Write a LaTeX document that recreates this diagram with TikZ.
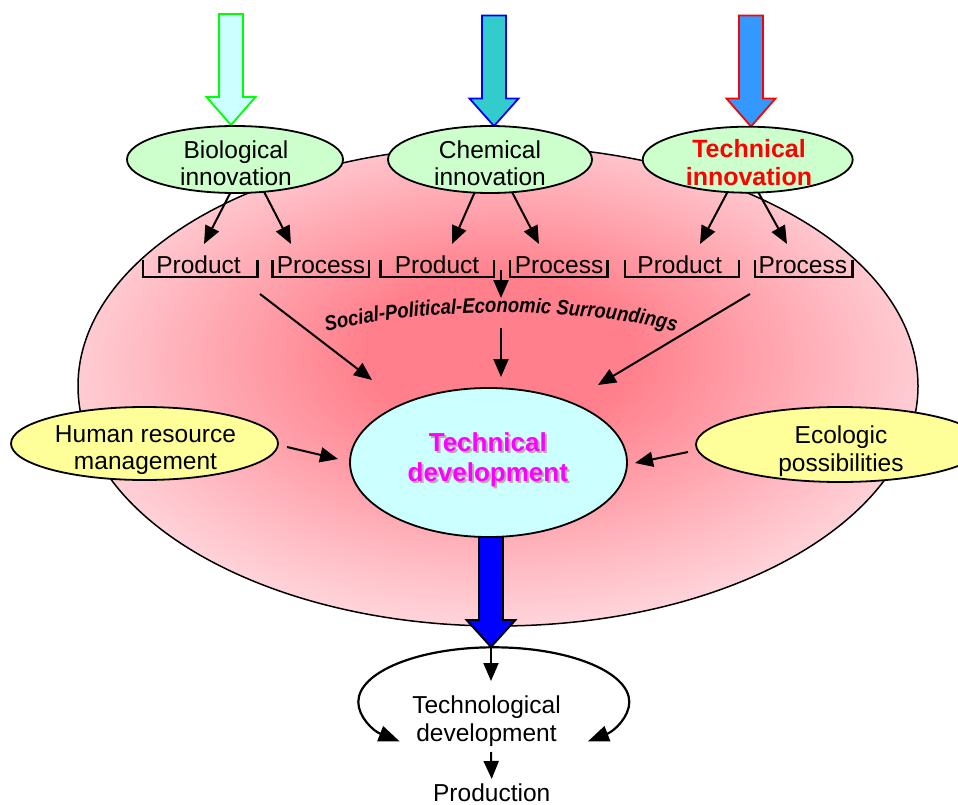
\documentclass[tikz,border=0pt]{standalone}
\usepackage{fontspec}
\setmainfont{Liberation Sans}
\newfontfamily\spfont[FakeStretch=0.88]{Liberation Sans}
\usetikzlibrary{shapes.geometric,arrows.meta,decorations.text}
\definecolor{pkC}{RGB}{255,128,140}
\definecolor{pkL}{RGB}{255,222,228}
\definecolor{grnE}{RGB}{204,255,204}
\definecolor{yelE}{RGB}{255,255,153}
\definecolor{cyanE}{RGB}{204,255,255}
\definecolor{tealA}{RGB}{51,204,204}
\definecolor{blueA}{RGB}{51,153,255}
\definecolor{limeA}{RGB}{0,255,0}
\definecolor{magT}{RGB}{255,0,255}
\definecolor{shadT}{RGB}{190,170,175}
\pgfdeclareradialshading{pinkglow}{\pgfpoint{0bp}{4bp}}{color(0bp)=(pkC); color(8bp)=(pkC); color(29bp)=(pkL); color(50bp)=(pkL)}
\newcommand\fnorm{\fontsize{24.5}{28}\selectfont}
\newcommand\fbig{\fontsize{25}{30}\selectfont\bfseries}
\newcommand\fcentre{\fontsize{26}{30}\selectfont\bfseries}
\newcommand\sptext{\spfont\fontsize{21}{21}\selectfont\bfseries\itshape}
\newcommand\blockarr[7]{%
  \draw[fill=#6, draw=#7, line width=1.8pt, line join=miter]
    ({#1-12},#2) -- ({#1+12},#2) -- ({#1+12},#3) -- ({#1+24.5},#3) -- (#1,#4)
    -- ({#1-24.5},#3) -- ({#1-12},#3) -- cycle;}
\begin{document}
\begin{tikzpicture}[x=1pt,y=-1pt,
  lbl/.style={font=\fnorm, anchor=base, inner sep=0pt, outer sep=0pt},
  arr/.style={draw=black, line width=2pt, -{Triangle[length=18pt,width=15pt]}},
  carr/.style={draw=black, line width=2.2pt, -{Triangle[length=21pt,width=16pt]}},
  innov/.style={ellipse, draw=black, line width=1.8pt, fill=grnE, inner sep=0pt, outer sep=0pt},
  yel/.style={ellipse, draw=black, line width=1.8pt, fill=yelE, inner sep=0pt, outer sep=0pt},
  brk/.style={draw=black, line width=2.6pt, line join=miter}]
\useasboundingbox (0,0) rectangle (958,805);
\clip (0,0) rectangle (958,805);

% big environment ellipse
\node[ellipse, draw=black, line width=1.5pt, shade, shading=pinkglow,
      minimum width=840pt, minimum height=480pt, inner sep=0pt] (env) at (498,386) {};

% top block arrows
\blockarr{231}{14}{97}{125}{}{cyanE}{limeA}
\blockarr{494}{15.5}{98.5}{126}{}{tealA}{blue}
\blockarr{751}{15.5}{98.5}{126.5}{}{blueA}{red}

% innovation ellipses
\node[innov, minimum width=216pt, minimum height=67pt] (bio) at (235,159.5) {};
\node[innov, minimum width=204pt, minimum height=67pt] (chem) at (490,159.5) {};
\node[innov, minimum width=210pt, minimum height=66pt] (tech) at (747.7,159.7) {};
\node[lbl] (bio1) at (236,158.2) {Biological};
\node[lbl] (bio2) at (236,185.5) {innovation};
\node[lbl] (chem1) at (490,158.2) {Chemical};
\node[lbl] (chem2) at (490,185.5) {innovation};
\node[lbl, font=\fbig, text=red] (tech1) at (749,157.2) {Technical};
\node[lbl, font=\fbig, text=red] (tech2) at (749,185.5) {innovation};

% product / process labels with brackets
\node[lbl] (pd1) at (198.5,273) {Product};
\node[lbl] (pc1) at (321,273) {Process};
\node[lbl] (pd2) at (437,273) {Product};
\node[lbl] (pc2) at (559,273) {Process};
\node[lbl] (pd3) at (679.7,273) {Product};
\node[lbl] (pc3) at (802.8,273) {Process};
\draw[brk] (143,260) |- (257.5,277) -- (257.5,260);
\draw[brk] (272.7,260) |- (369,277) -- (369,260);
\draw[brk] (380.7,260) |- (494,277) -- (494,260);
\draw[brk] (510,260) |- (607.7,277) -- (607.7,260);
\draw[brk] (625,260) |- (739,277) -- (739,260);
\draw[brk] (755,260) |- (852.7,277) -- (852.7,260);

% arrows innovation -> product/process
\coordinate (a1) at (204,244);
\coordinate (a2) at (291,244);
\coordinate (a3) at (452,244);
\coordinate (a4) at (539,244);
\coordinate (a5) at (700,244);
\coordinate (a6) at (787,244);
\draw[arr] (bio.-98.6) -- (a1);
\draw[arr] (bio.-48.1) -- (a2);
\draw[arr] (chem.-115.8) -- (a3);
\draw[arr] (chem.-56.1) -- (a4);
\draw[arr] (tech.-122.6) -- (a5);
\draw[arr] (tech.-72.1) -- (a6);

% social-political-economic surroundings
\path[decorate, decoration={text along path, text align=center,
   text={|\sptext|Social-Political-Economic Surroundings}}]
   (320,333) .. controls (420,306) and (580,306) .. (682,333);
\coordinate (s0) at (501,270);
\coordinate (s1) at (501,298);
\coordinate (s2) at (501,328);
\coordinate (s3) at (501,377);
\draw[arr] (s0) -- (s1);
\draw[arr] (s2) -- (s3);
\coordinate (l0) at (260,294);
\coordinate (l1) at (372,380);
\coordinate (r0) at (750,294);
\coordinate (r1) at (598,385);
\draw[arr] (l0) -- (l1);
\draw[arr] (r0) -- (r1);

% blue output arrow (behind central ellipse top)
\blockarr{491}{525}{620}{647}{}{blue}{black}

% central ellipse
\node[ellipse, draw=black, line width=1.8pt, fill=cyanE, inner sep=0pt,
      minimum width=277pt, minimum height=149pt] (dev) at (488.5,462.5) {};
\node[lbl, font=\fcentre, text=shadT] (dev1s) at (489.8,453.5) {Technical};
\node[lbl, font=\fcentre, text=shadT] (dev2s) at (489.8,483.5) {development};
\node[lbl, font=\fcentre, text=magT] (dev1) at (487.8,451.7) {Technical};
\node[lbl, font=\fcentre, text=magT] (dev2) at (487.8,481.7) {development};

% side ellipses
\node[yel, minimum width=267pt, minimum height=73pt] (hrm) at (144.5,443.5) {};
\node[lbl] (hrm1) at (145.5,442) {Human resource};
\node[lbl] (hrm2) at (145.5,469.5) {management};
\node[yel, minimum width=288pt, minimum height=75pt] (eco) at (840,444.5) {};
\node[lbl] (eco1) at (841,443.3) {Ecologic};
\node[lbl] (eco2) at (841,471.7) {possibilities};
\coordinate (h0) at (287,447);
\coordinate (h1) at (338,459);
\coordinate (e0) at (688,452);
\coordinate (e1) at (635,463);
\draw[arr] (h0) -- (h1);
\draw[arr] (e0) -- (e1);

% bottom loop
\coordinate (ltop) at (493.8,647.3);
\draw[carr] (ltop) arc[start angle=270, end angle=134, x radius=135.5, y radius=54.7];
\draw[carr] (ltop) arc[start angle=-90, end angle=46, x radius=135.5, y radius=54.7];
\coordinate (b0) at (491,647);
\coordinate (b1) at (491,681);
\draw[arr] (b0) -- (b1);
\node[lbl] (tg1) at (486.5,713) {Technological};
\node[lbl] (tg2) at (486.5,741.7) {development};
\node[lbl] (prod) at (491.7,801) {Production};
\coordinate (b2) at (491,752);
\draw[arr] (b2) -- (prod.north |- 0,779);
\end{tikzpicture}
\end{document}
